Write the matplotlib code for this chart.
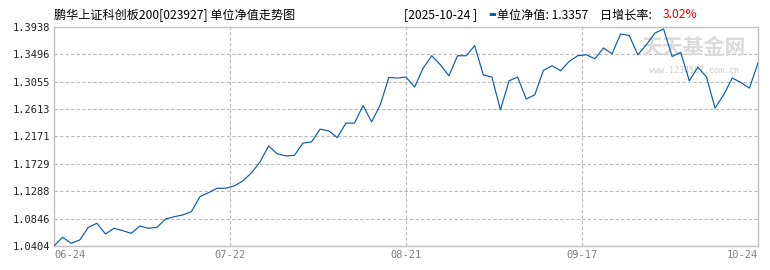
import numpy as np
import matplotlib
matplotlib.use('Agg')
import matplotlib.pyplot as plt

# unit NAV, one value per trading day 2025-06-24 .. 2025-10-24
nav = [
    1.0404, 1.0545, 1.0448, 1.0501, 1.0706, 1.0771, 1.0598, 1.0690, 1.0651, 1.0609,
    1.0727, 1.0690, 1.0706, 1.0840, 1.0877, 1.0905, 1.0958, 1.1201, 1.1265, 1.1336,
    1.1336, 1.1374, 1.1454, 1.1584, 1.1761, 1.2020, 1.1891, 1.1858, 1.1866, 1.2064,
    1.2085, 1.2290, 1.2262, 1.2154, 1.2387, 1.2387, 1.2671, 1.2408, 1.2682, 1.3124,
    1.3114, 1.3130, 1.2968, 1.3275, 1.3474, 1.3329, 1.3151, 1.3474, 1.3474, 1.3636,
    1.3167, 1.3130, 1.2602, 1.3070, 1.3130, 1.2775, 1.2844, 1.3237, 1.3313, 1.3232,
    1.3382, 1.3474, 1.3490, 1.3426, 1.3599, 1.3506, 1.3825, 1.3802, 1.3490, 1.3652,
    1.3841, 1.3906, 1.3462, 1.3527, 1.3070, 1.3291, 1.3130, 1.2629, 1.2844, 1.3114,
    1.3043, 1.2952, 1.3357,
]
y_ticks = [1.0404, 1.0846, 1.1288, 1.1729, 1.2171, 1.2613, 1.3055, 1.3496, 1.3938]
x_labels = ['06-24', '07-22', '08-21', '09-17', '10-24']

title = '鹏华上证科创板200[023927] 单位净值走势图'
last_date = '[2025-10-24 ]'
last_nav = '1.3357'
day_growth = '3.02%'

plt.rcParams['font.family'] = ['Noto Sans CJK SC', 'DejaVu Sans']

W, H = 770, 270
fig = plt.figure(figsize=(W / 100, H / 100), dpi=100)
ax = fig.add_axes([54 / W, (H - 246) / H, (758 - 54) / W, (246 - 27) / H])

x = np.arange(len(nav))
ax.plot(x, nav, color='#0b5cad', linewidth=0.85, zorder=3)

ax.set_xlim(0, len(nav) - 1)
ax.set_ylim(y_ticks[0], y_ticks[-1])

# x ticks at equal quarters of the axis
xt = np.linspace(0, len(nav) - 1, len(x_labels))
ax.set_xticks(xt)
ax.set_xticklabels(x_labels, family='DejaVu Sans Mono', fontsize=7.5, color='#808080')
labs = ax.get_xticklabels()
labs[0].set_ha('left')
labs[-1].set_ha('right')
ax.set_yticks(y_ticks)
ax.set_yticklabels([f'{v:.4f}' for v in y_ticks], family='DejaVu Sans Mono', fontsize=7.5, color='#222222')
ax.tick_params(length=0, pad=3)

for v in y_ticks[1:-1]:
    ax.axhline(v, color='#b8b8b8', linewidth=0.8, linestyle=(0, (3, 2)), zorder=1)
for v in xt[1:-1]:
    ax.axvline(v, color='#b8b8b8', linewidth=0.8, linestyle=(0, (3, 2)), zorder=1)
for s in ax.spines.values():
    s.set_color('#c0c0c0')
    s.set_linewidth(1)

# watermark
ax.text(0.909, 0.905, '天天基金网', transform=ax.transAxes, ha='center', va='center',
        fontsize=15, fontweight='bold', color='#dadada', zorder=2)
ax.text(0.909, 0.8, 'www.1234567.com.cn', transform=ax.transAxes, ha='center', va='center',
        family='DejaVu Sans Mono', fontsize=6, color='#cccccc', zorder=2)

# header texts
ty = 1 - 15 / H
fig.text(54 / W, ty, title, fontsize=8.7, va='center', ha='left')
fig.text(404 / W, ty, last_date, fontsize=8.7, va='center', ha='left')
fig.text(488 / W, ty, '▬', fontsize=6, va='center', ha='left', color='#0b5cad', family='DejaVu Sans')
fig.text(497 / W, ty, '单位净值: ' + last_nav, fontsize=8.7, va='center', ha='left')
fig.text(600 / W, ty, '日增长率: ', fontsize=8.7, va='center', ha='left')
fig.text(663 / W, ty, day_growth, fontsize=8.7, va='center', ha='left', color='#ee0000')

fig.savefig('out.png', dpi=100)
